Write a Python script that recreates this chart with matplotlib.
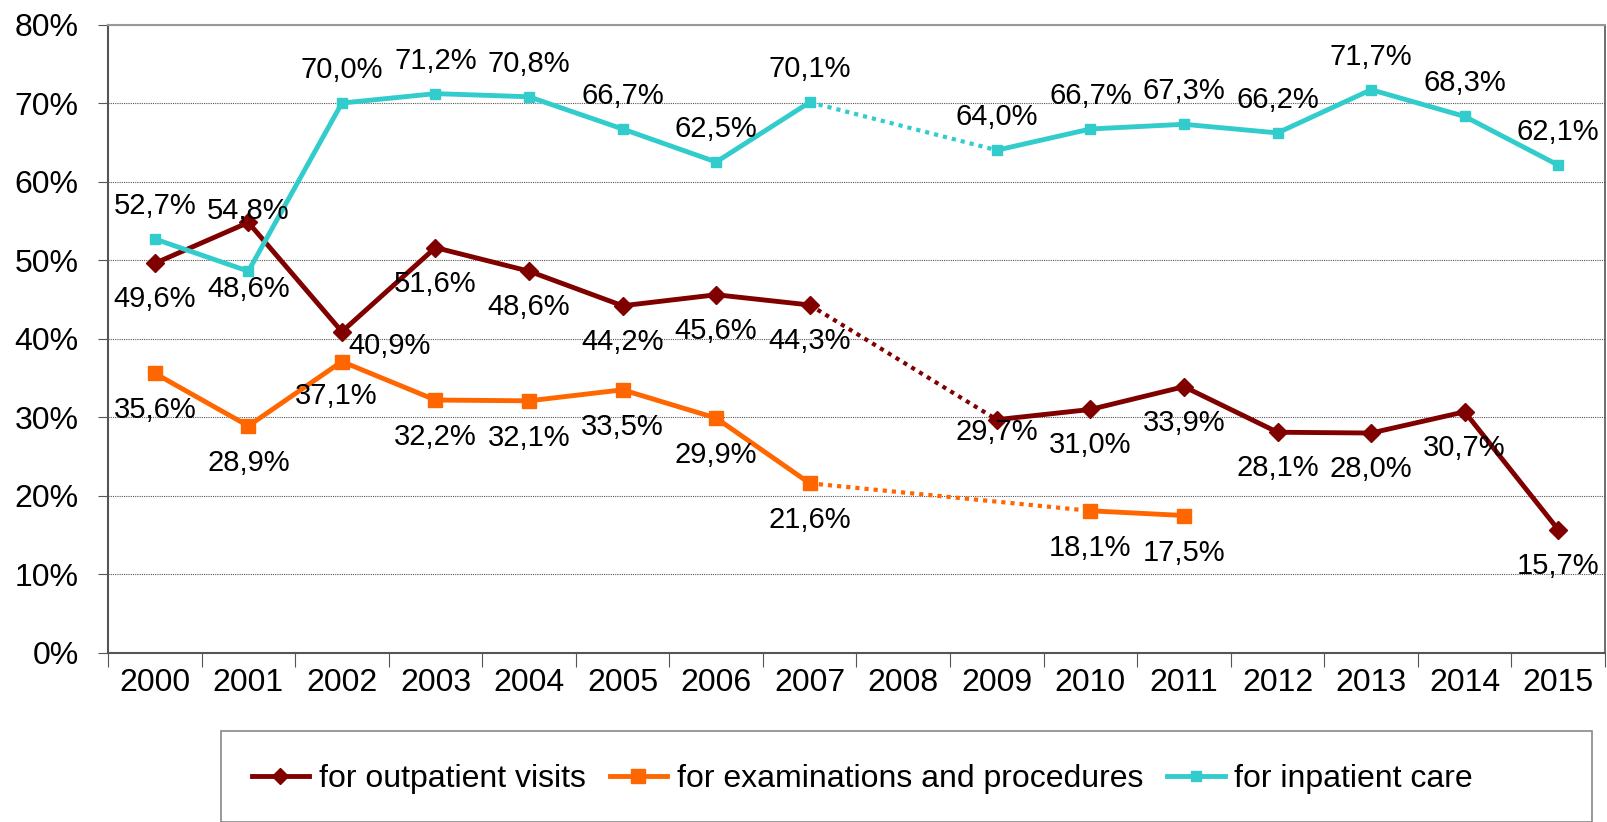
import numpy as np
import matplotlib
matplotlib.use('Agg')
import matplotlib.pyplot as plt
from matplotlib.lines import Line2D
from matplotlib.patches import Rectangle

plt.rcParams['font.family'] = ['Liberation Sans', 'DejaVu Sans']

years = ['2000', '2001', '2002', '2003', '2004', '2005', '2006', '2007',
         '2008', '2009', '2010', '2011', '2012', '2013', '2014', '2015']
nan = np.nan
outpatient = [49.6, 54.8, 40.9, 51.6, 48.6, 44.2, 45.6, 44.3,
              nan, 29.7, 31.0, 33.9, 28.1, 28.0, 30.7, 15.7]
exams = [35.6, 28.9, 37.1, 32.2, 32.1, 33.5, 29.9, 21.6,
         nan, nan, 18.1, 17.5, nan, nan, nan, nan]
inpatient = [52.7, 48.6, 70.0, 71.2, 70.8, 66.7, 62.5, 70.1,
             nan, 64.0, 66.7, 67.3, 66.2, 71.7, 68.3, 62.1]
series_names = ['for outpatient visits', 'for examinations and procedures', 'for inpatient care']

# label placement (pixel offsets), default above/below plus a few hand moved ones
label_dy = {'out': -36, 'exam': -37, 'inp': 33}
label_fix = {('out', 1): (0, 11), ('out', 2): (48, -14), ('out', 9): (0, -12),
             ('inp', 1): (0, -18), ('exam', 2): (-6, -34)}

c_out = '#800000'
c_exam = '#ff6600'
c_inp = '#33cccc'

fig = plt.figure(figsize=(16.08, 8.22), dpi=100)
ax = fig.add_axes([108/1608, 1-653/822, (1605-108)/1608, (653-24.5)/822])

x = np.arange(len(years))

def draw(vals, color, marker, msize, key):
    vals = np.array(vals, dtype=float)
    ax.plot(x, vals, color=color, lw=3.5, marker=marker, ms=msize, zorder=3)
    # dotted connectors over gaps
    idx = np.where(~np.isnan(vals))[0]
    for a, b in zip(idx[:-1], idx[1:]):
        if b - a > 1:
            ax.plot([a, b], [vals[a], vals[b]], color=color, lw=3, ls=(0, (1, 1.2)), zorder=2)
    for i in idx:
        dx, dy = label_fix.get((key, i), (0, label_dy[key]))
        ax.annotate(f'{vals[i]:.1f}%'.replace('.', ','), (x[i], vals[i]),
                    xytext=(dx, dy), textcoords='offset pixels',
                    ha='center', va='center', fontsize=21, color='black', zorder=4)

draw(outpatient, c_out, 'D', 9, 'out')
draw(exams, c_exam, 's', 9.5, 'exam')
draw(inpatient, c_inp, 's', 7.5, 'inp')

ax.set_xlim(-0.5, len(years) - 0.5)
ax.set_ylim(0, 80)
ax.set_yticks(np.arange(0, 81, 10))
ax.set_yticklabels([f'{v}%' for v in range(0, 81, 10)], fontsize=23)
ax.yaxis.grid(True, color='#555555', ls=(0, (1, 1)), lw=0.8)
ax.set_axisbelow(True)

ax.set_xticks(np.arange(-0.5, len(years), 1))
ax.set_xticklabels([])
ax.set_xticks(x, minor=True)
ax.set_xticklabels(years, minor=True, fontsize=23)
ax.tick_params(axis='x', which='major', length=10, color='#555555')
ax.tick_params(axis='x', which='minor', length=0, pad=11)
ax.tick_params(axis='y', length=7, color='#555555', pad=14)

for s in ['left', 'bottom']:
    ax.spines[s].set_color('#555555')
    ax.spines[s].set_linewidth(1.5)
ax.spines['top'].set_color('#999999')
ax.spines['top'].set_linewidth(1.5)
ax.spines['right'].set_color('#555555')
ax.spines['right'].set_linewidth(1.2)

# legend box
fig.patches.append(Rectangle((221/1608, 0.0), (1592-221)/1608, 1-731/822,
                             transform=fig.transFigure, fill=False,
                             edgecolor='#888888', lw=1.2))
handles = [Line2D([], [], color=c_out, lw=3.5, marker='D', ms=8),
           Line2D([], [], color=c_exam, lw=3.5, marker='s', ms=10),
           Line2D([], [], color=c_inp, lw=3.5, marker='s', ms=7)]
fig.legend(handles, series_names, loc='center left', bbox_to_anchor=(223/1608, 1-779/822),
           ncol=3, frameon=False, fontsize=23, handlelength=1.8,
           handletextpad=0.3, columnspacing=0.75)

fig.savefig('out.png', dpi=100)
